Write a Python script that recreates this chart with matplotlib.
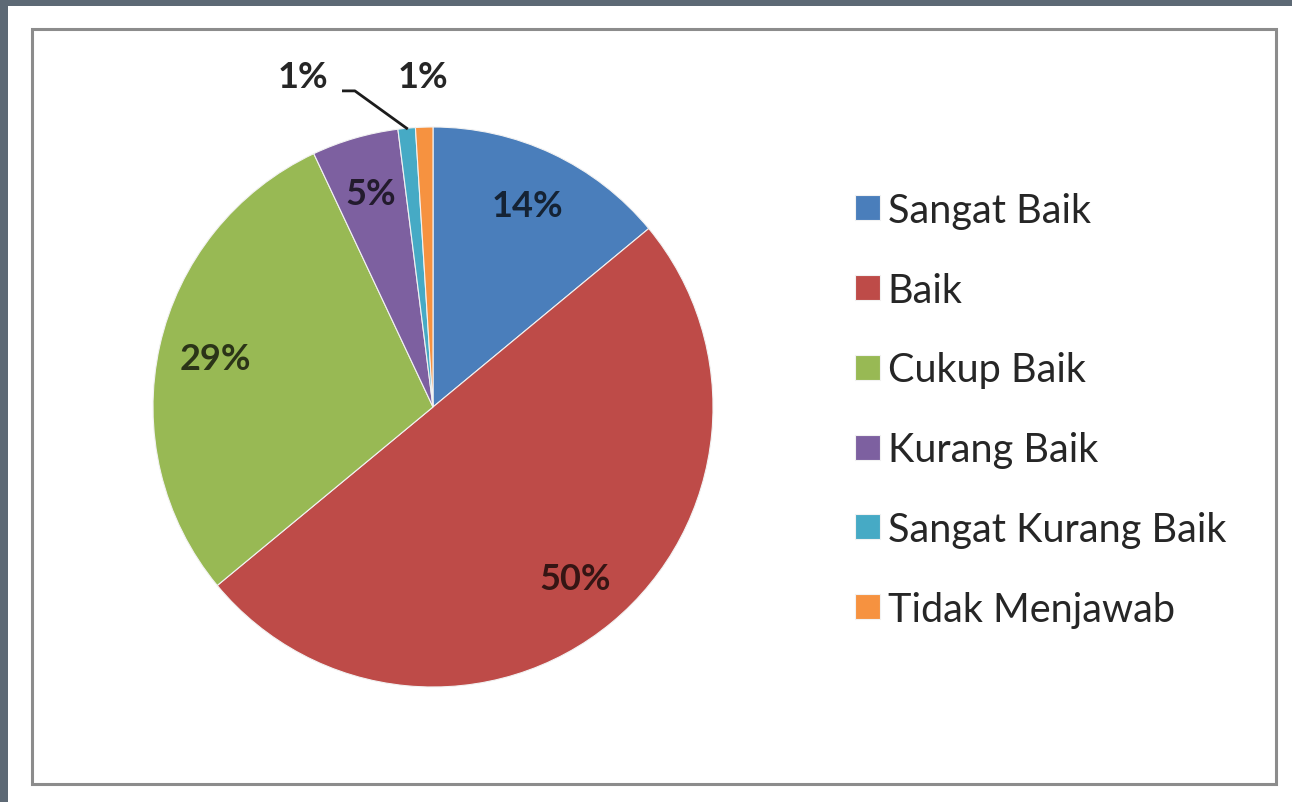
import numpy as np
import matplotlib
matplotlib.use('Agg')
import matplotlib.pyplot as plt
from matplotlib.patches import Rectangle
from matplotlib.colors import to_rgb

plt.rcParams['font.family'] = ['Lato', 'DejaVu Sans']

categories = ['Sangat Baik', 'Baik', 'Cukup Baik', 'Kurang Baik',
              'Sangat Kurang Baik', 'Tidak Menjawab']
values = [14, 50, 29, 5, 1, 1]
labels = ['14%', '50%', '29%', '5%', '1%', '1%']
colors = ['#4a7ebb', '#be4b48', '#98b954', '#7d60a0', '#46aac5', '#f69240']

W, H = 1292, 803
fig = plt.figure(figsize=(W / 100, H / 100), dpi=100, facecolor='#5d6975')

# white page and grey chart frame (behind everything)
fig.patches.append(Rectangle((8 / W, 0), 1, (H - 7) / H, transform=fig.transFigure,
                             facecolor='white', edgecolor='none', zorder=-2))
fig.patches.append(Rectangle((32 / W, (H - 785) / H), (1276 - 32) / W, (785 - 30) / H,
                             transform=fig.transFigure, facecolor='none',
                             edgecolor='#8c8c8c', linewidth=2.2, zorder=-1))

# pie: centre (433, 408), radius 280 px
cx, cy, r = 433, 408, 280
ax = fig.add_axes([(cx - r) / W, (H - cy - r) / H, 2 * r / W, 2 * r / H])
ax.set_zorder(1)

wedges, _ = ax.pie(values, colors=colors, startangle=90, counterclock=False,
                   radius=1, wedgeprops=dict(edgecolor='#f2f2f2', linewidth=0.8))
ax.set_xlim(-1, 1)
ax.set_ylim(-1, 1)
ax.set_aspect('equal')
ax.axis('off')

def dark(c, k=0.72):
    return tuple((1 - k) * v for v in to_rgb(c))

lbl_kw = dict(fontsize=26, fontweight='bold', ha='center', va='center')
for i, w in enumerate(wedges[:4]):
    ang = np.deg2rad((w.theta1 + w.theta2) / 2)
    ax.text(0.795 * np.cos(ang), 0.795 * np.sin(ang), labels[i],
            color=dark(colors[i]), **lbl_kw)

# Tidak Menjawab label just above its slice
w = wedges[5]
ang = np.deg2rad((w.theta1 + w.theta2) / 2)
ax.text(1.18 * np.cos(ang), 1.18 * np.sin(ang), labels[5], color='#262626', **lbl_kw)

# Sangat Kurang Baik label with leader line
w = wedges[4]
ang = np.deg2rad((w.theta1 + w.theta2) / 2)
ax.text(-0.465, 1.18, labels[4], color='#262626', **lbl_kw)
ax.plot([-0.32, -0.279, np.cos(ang)], [1.129, 1.129, np.sin(ang)],
        color='#1c1c1c', linewidth=2, clip_on=False)

leg = fig.legend(wedges, categories, loc='upper left',
                 bbox_to_anchor=(839 / W, (H - 177) / H), frameon=False,
                 fontsize=28.5, handlelength=0.63, handleheight=0.6,
                 handletextpad=0.2, labelspacing=1.08, borderaxespad=0)
for t in leg.get_texts():
    t.set_color('#262626')

fig.savefig('out.png', dpi=100, facecolor=fig.get_facecolor())
